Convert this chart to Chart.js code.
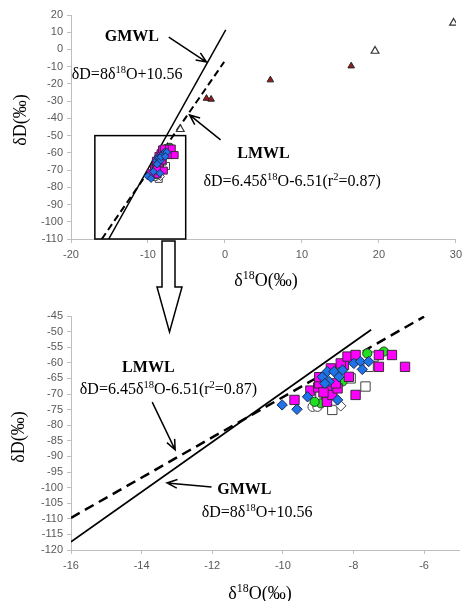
<!DOCTYPE html>
<html>
<head>
<meta charset="utf-8">
<script src="https://cdn.jsdelivr.net/npm/chart.js@4/dist/chart.umd.min.js"></script>
<style>
body { margin: 0; background: #fff; }
#wrap { position: relative; width: 467px; height: 601px; }
#topBox { position: absolute; left: 0; top: 0; width: 467px; height: 300px; }
#botBox { position: absolute; left: 0; top: 300px; width: 467px; height: 301px; }
#overlay { position: absolute; left: 0; top: 0; pointer-events: none; }
</style>
</head>
<body>
<div id="wrap">
  <div id="topBox"><canvas id="topChart" width="467" height="300"></canvas></div>
  <div id="botBox"><canvas id="botChart" width="467" height="301"></canvas></div>
  <canvas id="overlay" width="467" height="601"></canvas>
</div>
<script>
// sample points, delta18O (x) and deltaD (y)
const blueX = [-10.02, -9.6, -9.3, -8.88, -8.69, -8.74, -8.55, -8.41, -8.31, -8.45, -7.99, -7.8, -7.57, -7.75, -8.81];
const blueY = [-73.5, -74.9, -70.9, -64.5, -66.0, -62.8, -62.8, -64.5, -62.3, -71.9, -60.2, -59.6, -59.6, -62.1, -66.6];

const magentaX = [-9.67, -9.22, -9.0, -8.97, -8.75, -8.74, -8.6, -8.45, -8.64, -8.5, -8.27, -8.36, -8.17, -7.94, -8.13, -7.94, -7.28, -7.28, -6.91, -6.54, -8.97, -8.85];
const magentaY = [-71.9, -68.9, -67.9, -66.6, -72.5, -67.6, -70.3, -68.2, -61.8, -66.6, -60.7, -60.2, -58.0, -57.5, -64.5, -70.3, -57.5, -61.3, -57.5, -61.3, -64.6, -69.5];

const greenX = [-8.92, -8.78, -8.31, -7.61, -7.14, -9.1, -8.4];
const greenY = [-73.0, -70.9, -66.0, -57.0, -56.4, -72.5, -62.5];

const openSqX = [-8.6, -7.66, -8.08, -7.43, -7.57, -9.2];
const openSqY = [-75.1, -67.6, -65.0, -58.0, -61.3, -70.0];

const openCircX = [-9.16, -9.02];
const openCircY = [-74.1, -74.1];

const openDiaX = [-8.36];
const openDiaY = [-73.8];

const redTriX = [-2.4, -1.8, 5.9, 16.4];
const redTriY = [-28.4, -28.9, -17.7, -9.6];

const openTriX = [19.5, 29.7, -5.8];
const openTriY = [-0.9, 15.4, -46.3];

// water lines, end points as drawn
const gmwlTopX = [-15.1, 0.1];
const gmwlTopY = [-110, 11.3];
const lmwlTopX = [-16.0, -0.1];
const lmwlTopY = [-110, -7.2];
const gmwlBotX = [-16, -7.5];
const gmwlBotY = [-117.4, -49.4];
const lmwlBotX = [-16, -6.0];
const lmwlBotY = [-109.7, -45.2];

// axis ranges / ticks
const topXTicks = [-20, 30, 10];
const topYTicks = [-110, 20, 10];
const botXTicks = [-16, -5, 2];
const botYTicks = [-120, -45, 5];

function pts(xs, ys) {
    return xs.map((x, i) => ({ x: x, y: ys[i] }));
}

function drawRich(ctx, parts, x, y, size, bold, align) {
    const fam = '"Liberation Serif", "Times New Roman", serif';
    const w = bold ? 'bold ' : '';
    let total = 0;
    parts.forEach(p => {
        ctx.font = w + (p.sup ? size * 0.66 : size) + 'px ' + fam;
        total += ctx.measureText(p.t).width;
    });
    let cx = align === 'center' ? x - total / 2 : x;
    const base = y + size * 0.35;
    ctx.textAlign = 'left';
    ctx.textBaseline = 'alphabetic';
    parts.forEach(p => {
        ctx.font = w + (p.sup ? size * 0.66 : size) + 'px ' + fam;
        ctx.fillText(p.t, cx, p.sup ? base - size * 0.38 : base);
        cx += ctx.measureText(p.t).width;
    });
}

function drawArrow(ctx, x1, y1, x2, y2) {
    const ang = Math.atan2(y2 - y1, x2 - x1);
    const len = 11;
    ctx.lineWidth = 1.5;
    ctx.beginPath();
    ctx.moveTo(x1, y1);
    ctx.lineTo(x2, y2);
    ctx.moveTo(x2 - len * Math.cos(ang - 0.4), y2 - len * Math.sin(ang - 0.4));
    ctx.lineTo(x2, y2);
    ctx.lineTo(x2 - len * Math.cos(ang + 0.4), y2 - len * Math.sin(ang + 0.4));
    ctx.stroke();
}

const eqG = [{ t: 'δD=8δ' }, { t: '18', sup: true }, { t: 'O+10.56' }];
const eqL = [{ t: 'δD=6.45δ' }, { t: '18', sup: true }, { t: 'O-6.51(r' }, { t: '2', sup: true }, { t: '=0.87)' }];
const yTitle = [{ t: 'δD(‰)' }];
const xTitle = [{ t: 'δ' }, { t: '18', sup: true }, { t: 'O(‰)' }];

const annotPlugin = {
    id: 'annot',
    afterDraw(chart, args, opts) {
        const ctx = chart.ctx;
        const px = v => chart.scales.x.getPixelForValue(v);
        const py = v => chart.scales.y.getPixelForValue(v);
        ctx.save();
        ctx.fillStyle = '#000';
        ctx.strokeStyle = '#000';
        (opts.rects || []).forEach(r => {
            ctx.lineWidth = 1.5;
            ctx.strokeRect(px(r[0]), py(r[3]), px(r[1]) - px(r[0]), py(r[2]) - py(r[3]));
        });
        (opts.arrows || []).forEach(a => drawArrow(ctx, px(a[0]), py(a[1]), px(a[2]), py(a[3])));
        (opts.labels || []).forEach(l => drawRich(ctx, l.parts, px(l.x), py(l.y), l.size, l.bold, l.align));
        // axis titles
        drawRich(ctx, xTitle, opts.xTitle[0], opts.xTitle[1], 18, false, 'center');
        ctx.translate(opts.yTitle[0], opts.yTitle[1]);
        ctx.rotate(-Math.PI / 2);
        drawRich(ctx, yTitle, 0, 0, 18, false, 'center');
        ctx.restore();
    }
};

function scaleOpts(t, fixed, isY) {
    return {
        type: 'linear',
        min: t[0],
        max: t[1],
        border: { color: '#bfbfbf', width: 1 },
        grid: { drawOnChartArea: false, drawTicks: true, tickLength: 4, color: '#bfbfbf' },
        ticks: {
            stepSize: t[2],
            autoSkip: false,
            includeBounds: false,
            maxRotation: 0,
            padding: isY ? 4 : 5,
            color: '#595959',
            font: { family: '"Liberation Sans", Arial, sans-serif', size: 11 }
        },
        afterFit(scale) {
            if (isY) scale.width = fixed; else scale.height = fixed;
        }
    };
}

function pointSets(big) {
    const k = big ? 1 : 0.75;
    return [
        { data: pts(blueX, blueY), pointStyle: 'rectRot', pointRadius: 5.2 * k, backgroundColor: '#1f73e6', borderColor: '#1a2a55', borderWidth: 1 },
        { data: pts(magentaX, magentaY), pointStyle: 'rect', pointRadius: 6.6 * k, backgroundColor: '#ff00ff', borderColor: '#3a2a3a', borderWidth: 1 },
        { data: pts(greenX, greenY), pointStyle: 'circle', pointRadius: 4.6 * k, backgroundColor: '#1ee01e', borderColor: '#2a3a2a', borderWidth: 1 },
        { data: pts(openDiaX, openDiaY), pointStyle: 'rectRot', pointRadius: 5.2 * k, backgroundColor: '#fff', borderColor: '#444', borderWidth: 1 },
        { data: pts(openCircX, openCircY), pointStyle: 'circle', pointRadius: 4.6 * k, backgroundColor: '#fff', borderColor: '#444', borderWidth: 1 },
        { data: pts(openSqX, openSqY), pointStyle: 'rect', pointRadius: 6.6 * k, backgroundColor: '#fff', borderColor: '#444', borderWidth: 1 }
    ];
}

function lineSet(xs, ys, dash, width) {
    return { data: pts(xs, ys), showLine: true, pointRadius: 0, borderColor: '#000', borderWidth: width, borderDash: dash, fill: false };
}

new Chart(document.getElementById('topChart'), {
    type: 'scatter',
    data: {
        datasets: [
            { data: pts(redTriX, redTriY), pointStyle: 'triangle', pointRadius: 3.8, backgroundColor: '#9b1c1c', borderColor: '#222', borderWidth: 1 },
            { data: pts(openTriX, openTriY), pointStyle: 'triangle', pointRadius: 4.5, backgroundColor: '#fff', borderColor: '#333', borderWidth: 1.2 }
        ].concat(pointSets(false), [
            lineSet(gmwlTopX, gmwlTopY, [], 1.5),
            lineSet(lmwlTopX, lmwlTopY, [7, 4], 2)
        ])
    },
    options: {
        responsive: false,
        animation: false,
        layout: { padding: { left: 0, top: 15, right: 9, bottom: 0 } },
        scales: { x: scaleOpts(topXTicks, 61, false), y: scaleOpts(topYTicks, 71, true) },
        plugins: {
            legend: { display: false },
            tooltip: { enabled: false },
            annot: {
                rects: [[-16.9, -5.1, -110, -50]],
                arrows: [[-7.3, 7.2, -2.4, -7.3], [-0.57, -52.5, -4.6, -38]],
                labels: [
                    { parts: [{ t: 'GMWL' }], x: -12.1, y: 8.4, size: 16, bold: true, align: 'center' },
                    { parts: eqG, x: -19.9, y: -13.7, size: 16, bold: false, align: 'left' },
                    { parts: [{ t: 'LMWL' }], x: 5.0, y: -59.5, size: 16, bold: true, align: 'center' },
                    { parts: eqL, x: -2.8, y: -75.8, size: 16, bold: false, align: 'left' }
                ],
                xTitle: [266, 280],
                yTitle: [20, 120]
            }
        }
    },
    plugins: [annotPlugin]
});

new Chart(document.getElementById('botChart'), {
    type: 'scatter',
    data: {
        datasets: pointSets(true).concat([
            lineSet(gmwlBotX, gmwlBotY, [], 1.8),
            lineSet(lmwlBotX, lmwlBotY, [10, 6], 2.5)
        ])
    },
    options: {
        responsive: false,
        animation: false,
        layout: { padding: { left: 0, top: 16, right: 4, bottom: 0 } },
        scales: { x: scaleOpts(botXTicks, 51, false), y: scaleOpts(botYTicks, 71, true) },
        plugins: {
            legend: { display: false },
            tooltip: { enabled: false },
            annot: {
                arrows: [[-13.7, -72.6, -13.05, -87.9], [-12.02, -99.8, -13.28, -98.5]],
                labels: [
                    { parts: [{ t: 'LMWL' }], x: -13.81, y: -61.3, size: 16, bold: true, align: 'center' },
                    { parts: eqL, x: -15.75, y: -68.1, size: 16, bold: false, align: 'left' },
                    { parts: [{ t: 'GMWL' }], x: -11.09, y: -100.1, size: 16, bold: true, align: 'center' },
                    { parts: eqG, x: -12.3, y: -107.5, size: 16, bold: false, align: 'left' }
                ],
                xTitle: [260, 293],
                yTitle: [18, 137]
            }
        }
    },
    plugins: [annotPlugin]
});

// hollow block arrow linking the boxed region to the zoomed plot
const oc = document.getElementById('overlay').getContext('2d');
oc.beginPath();
oc.moveTo(162, 241);
oc.lineTo(175, 241);
oc.lineTo(175, 287);
oc.lineTo(182, 287);
oc.lineTo(169.5, 332);
oc.lineTo(157, 287);
oc.lineTo(162, 287);
oc.closePath();
oc.fillStyle = '#fff';
oc.fill();
oc.lineWidth = 1.5;
oc.strokeStyle = '#000';
oc.stroke();
</script>
</body>
</html>
